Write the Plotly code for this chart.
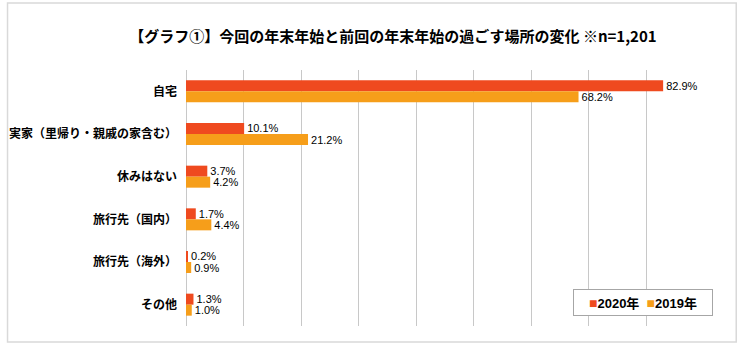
import plotly.graph_objects as go

categories = ["自宅", "実家（里帰り・親戚の家含む）", "休みはない", "旅行先（国内）", "旅行先（海外）", "その他"]
series_names = ["2020年", "2019年"]
values_2020 = [82.9, 10.1, 3.7, 1.7, 0.2, 1.3]
values_2019 = [68.2, 21.2, 4.2, 4.4, 0.9, 1.0]
colors = ["#EF4A1F", "#F69E1A"]
title_text = "【グラフ①】今回の年末年始と前回の年末年始の過ごす場所の変化 ※n=1,201"

W, H = 739, 347
L, R, T, B = 186.3, 739 - 703.8, 70, 347 - 326
pw, ph = W - L - R, H - T - B

def px_x(x):
    return (x - L) / pw

def px_y(y):
    return (H - B - y) / ph

fig = go.Figure()
for name, vals, col in zip(series_names, [values_2020, values_2019], colors):
    fig.add_trace(go.Bar(
        y=categories, x=vals, name=name, orientation="h",
        marker=dict(color=col, line=dict(width=0)),
        texttemplate="%{x:.1f}%", textposition="outside", constraintext="none",
        textfont=dict(family="Liberation Sans, Arial, sans-serif", size=11, color="#000000"),
        cliponaxis=False, showlegend=False,
    ))

fig.update_layout(
    width=W, height=H,
    margin=dict(l=L, r=R, t=T, b=B, autoexpand=False),
    paper_bgcolor="white", plot_bgcolor="white",
    barmode="group", bargap=0.484, bargroupgap=0,
    uniformtext=dict(mode=False),
    title=dict(text=title_text, x=393 / W, xanchor="center", y=1 - 37 / H, yanchor="middle",
               font=dict(family="Noto Sans CJK JP", size=15, color="#000000", weight="bold")),
    xaxis=dict(range=[0, 90], dtick=10, tick0=0, showticklabels=False, showgrid=True,
               gridcolor="#C8C8C8", gridwidth=1, zeroline=True, zerolinecolor="#C8C8C8",
               zerolinewidth=1, showline=False, fixedrange=True),
    yaxis=dict(autorange="reversed", showgrid=False, showline=False, ticks="",
               ticklabelstandoff=8,
               tickfont=dict(family="Noto Sans CJK JP", size=12, color="#000000", weight="bold")),
    shapes=[dict(type="rect", xref="paper", yref="paper",
                 x0=px_x(8), x1=px_x(736), y0=px_y(342), y1=px_y(3),
                 line=dict(color="#D9D9D9", width=1.5), fillcolor="rgba(0,0,0,0)", layer="below")],
    annotations=[dict(
        xref="paper", yref="paper", x=px_x(643.3), y=px_y(302.7), xanchor="center", yanchor="middle",
        text=(f"<span style='color:{colors[0]};font-size:14px'>■</span>{series_names[0]}"
              f"&nbsp;&nbsp;<span style='color:{colors[1]};font-size:14px'>■</span>{series_names[1]}"),
        showarrow=False, width=138, height=25, bgcolor="white",
        bordercolor="#A6A6A6", borderwidth=1, borderpad=0,
        font=dict(family="Liberation Sans, Noto Sans CJK JP", size=13, color="#000000", weight="bold"),
    )],
)

fig.write_html("out.html")
